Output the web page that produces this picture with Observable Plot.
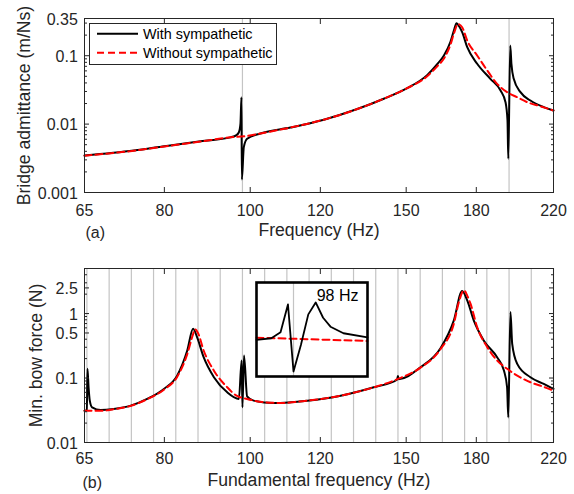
<!DOCTYPE html>
<html><head><meta charset="utf-8">
<script src="https://cdn.jsdelivr.net/npm/d3@7"></script>
<script src="https://cdn.jsdelivr.net/npm/@observablehq/plot@0.6"></script>
<style>
body{margin:0;background:#fff;}
#wrap{position:relative;width:574px;height:494px;font-family:"Liberation Sans",Arial,sans-serif;color:#262626;}
#wrap > svg{display:block;}
#legend{position:absolute;left:89px;top:23px;width:188px;height:42px;box-sizing:border-box;border:1px solid #262626;background:#fff;}
#inset{position:absolute;left:254px;top:280px;}
</style></head><body><div id="wrap"><div id="legend"></div><div id="inset"></div></div>
<script>
// ---------- data ----------
const xTicks = [65, 80, 100, 120, 150, 180, 220];
const xTickLabels = ["65", "80", "100", "120", "150", "180", "220"];

const yTicksA = [0.001, 0.01, 0.1, 0.35];
const yTickLabelsA = ["0.001", "0.01", "0.1", "0.35"];
const yMinorA = [0.002,0.003,0.004,0.005,0.006,0.007,0.008,0.009,0.02,0.03,0.04,0.05,0.06,0.07,0.08,0.09,0.2,0.3];

const yTicksB = [0.01, 0.1, 0.5, 1, 2.5];
const yTickLabelsB = ["0.01", "0.1", "0.5", "1", "2.5"];
const yMinorB = [0.02,0.03,0.04,0.05,0.06,0.07,0.08,0.09,0.2,0.3,0.4,0.6,0.7,0.8,0.9,2,3,4];

const markerFreqsA = [98, 196];
const semitoneFreqs = [65.41, 69.30, 73.42, 77.78, 82.41, 87.31, 92.50, 98.00, 103.83, 110.00, 116.54, 123.47, 130.81, 138.59, 146.83, 155.56, 164.81, 174.61, 185.00, 196.00, 207.65, 220.00];

// (a) bridge admittance, with sympathetic strings
const freqAWith = [65, 73.9, 80, 87.9, 95, 96.5, 97.1, 97.5, 97.75, 97.85, 98.35, 99.2, 102.7, 111.0, 121.1, 132.1, 141.5, 150.4, 158.4, 162.6, 165.4, 168.3, 169.8, 171.0, 172.2, 173.5, 175.8, 180.4, 186.7, 191.7, 194.2, 195.2, 195.6, 196.6, 197.2, 198.4, 201.9, 207.2, 214.5, 220];
const admAWith = [0.00348, 0.00411, 0.00475, 0.00562, 0.0064, 0.0069, 0.0076, 0.0102, 0.0247, 0.00155, 0.0046, 0.0061, 0.0073, 0.0089, 0.0116, 0.0166, 0.0235, 0.0335, 0.052, 0.075, 0.100, 0.160, 0.233, 0.2985, 0.267, 0.2206, 0.133, 0.0762, 0.0459, 0.031, 0.0209, 0.0113, 0.00311, 0.141, 0.0762, 0.0459, 0.0293, 0.0221, 0.0177, 0.0158];
// (a) without sympathetic strings
const freqAWithout = [65, 73.9, 80, 87.9, 95, 99.2, 102.7, 111.0, 121.1, 132.1, 141.5, 150.4, 158.4, 162.6, 165.4, 168.3, 170.0, 171.6, 173.5, 175.8, 180.4, 185.2, 190.0, 195.0, 200.2, 205.5, 212.7, 220];
const admAWithout = [0.00345, 0.00408, 0.0047, 0.00555, 0.0064, 0.0067, 0.0073, 0.0089, 0.0116, 0.0166, 0.0235, 0.0335, 0.050, 0.070, 0.090, 0.145, 0.22, 0.29, 0.261, 0.1667, 0.1007, 0.0608, 0.0388, 0.0293, 0.0247, 0.0209, 0.0182, 0.0158];

// (b) minimum bow force, with sympathetic strings
const freqBWith = [65, 65.4, 65.5, 65.7, 65.9, 66.3, 67.8, 70.1, 73.3, 76.5, 79.9, 82.7, 84.9, 86.2, 87.1, 88.6, 91.0, 94.2, 97.1, 97.8, 98.0, 98.4, 99.2, 100.9, 106.3, 116.0, 126.5, 137.9, 146.5, 146.8, 147.1, 155.7, 164.0, 169.8, 173.5, 175.8, 178.8, 183.5, 190.0, 193.4, 195.0, 195.6, 196.7, 197.6, 200.2, 207.2, 214.5, 220];
const forceBWith = [0.031, 0.032, 0.139, 0.07, 0.0446, 0.0351, 0.0319, 0.0331, 0.0373, 0.0474, 0.0678, 0.109, 0.2673, 0.582, 0.431, 0.2104, 0.1028, 0.060, 0.0474, 0.187, 0.0351, 0.2236, 0.052, 0.0446, 0.041, 0.0446, 0.0533, 0.0718, 0.094, 0.108, 0.096, 0.147, 0.29, 0.784, 2.24, 1.60, 0.784, 0.383, 0.2104, 0.1306, 0.0718, 0.0245, 1.055, 0.340, 0.166, 0.1028, 0.081, 0.068];
// (b) without sympathetic strings
const freqBWithout = [65, 67.8, 70.1, 73.3, 76.5, 79.9, 82.7, 84.9, 86.2, 86.6, 87.3, 88.6, 91.0, 94.2, 96.5, 99.2, 103.8, 108.2, 116.0, 126.5, 137.9, 146.6, 155.7, 164.0, 169.8, 172.0, 174.3, 175.8, 177.3, 180.4, 185.2, 190.0, 195.0, 200.2, 207.2, 214.5, 220];
const forceBWithout = [0.031, 0.031, 0.0328, 0.037, 0.047, 0.066, 0.104, 0.235, 0.48, 0.57, 0.50, 0.2673, 0.13, 0.0718, 0.0532, 0.0474, 0.042, 0.041, 0.0446, 0.0533, 0.0718, 0.096, 0.145, 0.28, 0.70, 1.5, 2.29, 1.9, 1.426, 0.616, 0.301, 0.187, 0.139, 0.109, 0.0859, 0.073, 0.0638];

// inset (zoom around 98 Hz, arbitrary linear units)
const insetFreqWith = [97.8, 97.88, 97.93, 97.97, 98.0, 98.04, 98.08, 98.12, 98.16, 98.2, 98.27, 98.4];
const insetValWith = [0.0589, 0.0607, 0.067, 0.0967, 0.0253, 0.0536, 0.0861, 0.0988, 0.0825, 0.073, 0.066, 0.0617];
const insetFreqWithout = [97.8, 98.4];
const insetValWithout = [0.0613, 0.0578];
const insetMarker = [98];
const insetLabel = ["98 Hz"];

const legendLabels = ["With sympathetic", "Without sympathetic"];

// ---------- helpers ----------
const FONT = '"Liberation Sans", Arial, sans-serif';
const INK = "#262626";
const toRows = (xs, ys) => xs.map((x, i) => ({x, y: ys[i]}));
const blank = () => "";

function panel({height, marginTop, marginBottom, yDomain, yTicks, yLabels, yMinor, grid, gridWidth, withRows, withoutRows, yLabel, yLabelDx, xLabel, xLabelDy, tickDy, tag, tagDx, tagDy}) {
  return Plot.plot({
    width: 574, height, marginLeft: 84, marginRight: 21, marginTop, marginBottom,
    style: {fontFamily: FONT, fontSize: "16px", color: INK, background: "transparent", overflow: "visible"},
    x: {type: "log", domain: [65, 220], axis: null},
    y: {type: "log", domain: yDomain, axis: null},
    marks: [
      Plot.ruleX(grid, {stroke: "#c4c4c4", strokeWidth: gridWidth}),
      Plot.line(withRows, {x: "x", y: "y", stroke: "#000", strokeWidth: 2, curve: "monotone-x"}),
      Plot.line(withoutRows, {x: "x", y: "y", stroke: "#ff0000", strokeWidth: 2, strokeDasharray: "7,4", curve: "monotone-x"}),
      Plot.frame({stroke: INK, strokeWidth: 1}),
      // inward tick marks on all four sides
      Plot.axisX(xTicks, {anchor: "bottom", tickSize: -5, tickFormat: blank, label: null}),
      Plot.axisX(xTicks, {anchor: "top", tickSize: -5, tickFormat: blank, label: null}),
      Plot.axisY(yTicks, {anchor: "left", tickSize: -5, tickFormat: blank, label: null}),
      Plot.axisY(yTicks, {anchor: "right", tickSize: -5, tickFormat: blank, label: null}),
      Plot.axisY(yMinor, {anchor: "left", tickSize: -3, tickFormat: blank, label: null}),
      Plot.axisY(yMinor, {anchor: "right", tickSize: -3, tickFormat: blank, label: null}),
      // tick labels
      Plot.text(xTicks, {x: d => d, text: (d, i) => xTickLabels[i], frameAnchor: "bottom", dy: tickDy, lineAnchor: "bottom", textAnchor: "middle", fontSize: 16, fill: INK}),
      Plot.text(yTicks, {y: d => d, text: (d, i) => yLabels[i], frameAnchor: "left", dx: -6.7, dy: 1, lineAnchor: "middle", textAnchor: "end", fontSize: 16, fill: INK}),
      // axis titles and panel tag
      Plot.text([yLabel], {text: d => d, frameAnchor: "left", rotate: -90, dx: yLabelDx, textAnchor: "middle", lineAnchor: "bottom", fontSize: 17.6, fill: INK}),
      Plot.text([xLabel], {text: d => d, frameAnchor: "bottom", dy: xLabelDy, textAnchor: "middle", lineAnchor: "bottom", fontSize: 17.6, fill: INK}),
      Plot.text([tag], {text: d => d, frameAnchor: "bottom-left", dx: tagDx, dy: tagDy, textAnchor: "start", lineAnchor: "bottom", fontSize: 16, fill: INK})
    ]
  });
}

const wrapEl = document.getElementById("wrap");

const panelA = panel({
  height: 247, marginTop: 18, marginBottom: 55,
  yDomain: [0.001, 0.35], yTicks: yTicksA, yLabels: yTickLabelsA, yMinor: yMinorA,
  grid: markerFreqsA, gridWidth: 1.2,
  withRows: toRows(freqAWith, admAWith), withoutRows: toRows(freqAWithout, admAWithout),
  yLabel: "Bridge admittance (m/Ns)", yLabelDx: -55,
  xLabel: "Frequency (Hz)", xLabelDy: 43, tickDy: 23.5, tag: "(a)", tagDx: 1, tagDy: 45
});
const panelB = panel({
  height: 247, marginTop: 21, marginBottom: 52,
  yDomain: [0.01, 5], yTicks: yTicksB, yLabels: yTickLabelsB, yMinor: yMinorB,
  grid: semitoneFreqs, gridWidth: 1.2,
  withRows: toRows(freqBWith, forceBWith), withoutRows: toRows(freqBWithout, forceBWithout),
  yLabel: "Min. bow force (N)", yLabelDx: -43,
  xLabel: "Fundamental frequency (Hz)", xLabelDy: 43.5, tickDy: 21.8, tag: "(b)", tagDx: -2, tagDy: 45
});
wrapEl.insertBefore(panelB, wrapEl.firstChild);
wrapEl.insertBefore(panelA, wrapEl.firstChild);

// inset
const insetPlot = Plot.plot({
  width: 115, height: 98, margin: 2,
  style: {fontFamily: FONT, fontSize: "16px", color: INK, background: "transparent", overflow: "visible"},
  x: {type: "linear", domain: [97.8, 98.4], axis: null},
  y: {type: "linear", domain: [0.02, 0.12], axis: null},
  marks: [
    Plot.frame({fill: "#fff", stroke: "none"}),
    Plot.ruleX(insetMarker, {stroke: "#c4c4c4", strokeWidth: 1.2}),
    Plot.line(toRows(insetFreqWithout, insetValWithout), {x: "x", y: "y", stroke: "#ff0000", strokeWidth: 2, strokeDasharray: "7,4"}),
    Plot.line(toRows(insetFreqWith, insetValWith), {x: "x", y: "y", stroke: "#000", strokeWidth: 1.8}),
    Plot.text(insetLabel, {text: d => d, frameAnchor: "top-right", dx: -9, dy: 7, textAnchor: "end", lineAnchor: "top", fontSize: 16, fill: "#000"}),
    Plot.frame({stroke: "#000", strokeWidth: 2.6})
  ]
});
document.getElementById("inset").appendChild(insetPlot);

// legend
const ns = "http://www.w3.org/2000/svg";
const lsvg = document.createElementNS(ns, "svg");
lsvg.setAttribute("width", 186); lsvg.setAttribute("height", 40);
lsvg.style.display = "block";
const legendStyles = [{stroke: "#000", dash: null}, {stroke: "#ff0000", dash: "7,4"}];
legendLabels.forEach((lab, i) => {
  const y = 9.8 + i * 19;
  const ln = document.createElementNS(ns, "line");
  ln.setAttribute("x1", 7); ln.setAttribute("x2", 48); ln.setAttribute("y1", y); ln.setAttribute("y2", y);
  ln.setAttribute("stroke", legendStyles[i].stroke); ln.setAttribute("stroke-width", 2);
  if (legendStyles[i].dash) ln.setAttribute("stroke-dasharray", legendStyles[i].dash);
  lsvg.appendChild(ln);
  const tx = document.createElementNS(ns, "text");
  tx.setAttribute("x", 53); tx.setAttribute("y", y + 5);
  tx.setAttribute("font-size", "14.4px"); tx.setAttribute("font-family", FONT); tx.setAttribute("fill", "#000");
  tx.textContent = lab;
  lsvg.appendChild(tx);
});
document.getElementById("legend").appendChild(lsvg);
</script>
</body></html>
